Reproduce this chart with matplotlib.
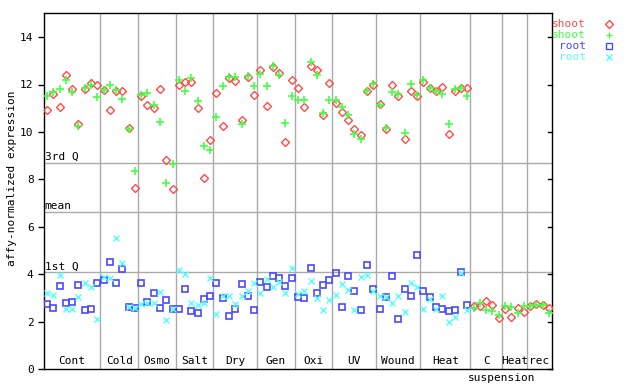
import matplotlib
matplotlib.use('Agg')
import matplotlib.pyplot as plt
import numpy as np

# Group labels and number of samples in each group
groups = ['Cont', 'Cold', 'Osmo', 'Salt', 'Dry', 'Gen', 'Oxi', 'UV', 'Wound', 'Heat', 'C', 'Heat', 'rec']
group_sizes = [9, 6, 6, 6, 7, 6, 6, 7, 7, 8, 5, 4, 4]

# Shoot series (red diamonds and green crosses)
shoot_a = [10.94, 11.62, 11.05, 12.38, 11.83, 10.32, 11.83, 12.07, 11.99,
           11.78, 10.94, 11.73, 11.74, 10.18, 7.64,
           11.53, 11.15, 11.01, 11.83, 8.82, 7.59,
           11.98, 12.11, 12.11, 11.01, 8.06, 9.67,
           11.64, 10.24, 12.28, 12.15, 10.52, 12.32, 11.56,
           12.63, 11.10, 12.75, 12.49, 9.58, 12.19,
           11.85, 11.05, 12.78, 12.63, 10.72, 12.07,
           11.21, 10.84, 10.52, 10.14, 9.89, 11.73, 11.98,
           11.18, 10.12, 11.98, 11.52, 9.70, 11.73, 11.52,
           12.12, 11.85, 11.73, 11.90, 9.91, 11.73, 11.85, 11.85,
           2.67, 2.66, 2.87, 2.70, 2.15,
           2.53, 2.19, 2.57, 2.40,
           2.66, 2.74, 2.70, 2.57]
shoot_b = [11.53, 11.67, 11.83, 12.19, 11.70, 10.27, 11.87, 11.98, 11.49,
           11.76, 11.98, 11.77, 11.39, 10.13, 8.35,
           11.57, 11.66, 11.14, 10.43, 7.85, 8.65,
           12.19, 11.74, 12.29, 11.29, 9.42, 9.25,
           10.63, 11.95, 12.32, 12.32, 10.34, 12.35, 11.94,
           12.45, 11.94, 12.80, 12.40, 10.38, 11.52,
           11.36, 11.36, 12.95, 12.40, 10.80, 11.36,
           11.36, 11.05, 10.72, 9.91, 9.70, 11.73, 12.02,
           11.14, 10.17, 11.69, 11.60, 9.96, 12.02, 11.56,
           12.19, 11.87, 11.74, 11.60, 10.34, 11.81, 11.85, 11.52,
           2.57, 2.78, 2.49, 2.45, 2.29,
           2.66, 2.61, 2.36, 2.66,
           2.66, 2.70, 2.70, 2.36]

# Root series (blue squares and cyan x), none for suspension samples
nan = np.nan
root_a = [2.74, 2.57, 3.50, 2.78, 2.83, 3.54, 2.49, 2.53, 3.63,
          3.75, 4.51, 3.63, 4.22, 2.61, 2.57,
          3.63, 2.83, 3.21, 2.57, 2.91, 2.53,
          2.53, 3.37, 2.45, 2.36, 2.95, 3.08,
          3.63, 2.99, 2.24, 2.53, 3.59, 3.08, 2.49,
          3.67, 3.46, 3.92, 3.84, 3.50, 3.84,
          3.04, 2.99, 4.26, 3.21, 3.54, 3.75,
          4.05, 2.61, 3.92, 3.29, 2.49, 4.39, 3.37,
          2.53, 3.04, 3.92, 2.11, 3.37, 3.08, 4.81,
          3.29, 3.04, 2.61, 2.53, 2.45, 2.49, 4.09, 2.70,
          nan, nan, nan, nan, nan, nan, nan, nan, nan, nan, nan, nan, nan]
root_b = [3.21, 3.12, 3.97, 2.53, 2.53, 3.04, 3.63, 3.46, 2.11,
          3.88, 3.84, 5.53, 4.47, 2.61, 2.57,
          2.74, 2.78, 2.78, 3.25, 2.07, 2.53,
          4.18, 4.01, 2.78, 2.70, 2.78, 3.84,
          2.32, 3.08, 3.08, 2.74, 3.08, 3.29, 3.63,
          3.21, 3.80, 3.46, 3.67, 3.21, 4.26,
          3.16, 3.29, 3.71, 2.99, 2.49, 2.91,
          3.12, 3.59, 3.33, 2.49, 3.88, 3.97, 3.29,
          3.08, 3.04, 2.78, 3.08, 2.40, 3.63, 3.46,
          2.53, 2.95, 2.53, 3.08, 1.98, 2.19, 4.05, 2.49,
          nan, nan, nan, nan, nan, nan, nan, nan, nan, nan, nan, nan, nan]

# Reference lines
quartiles = {'3rd Q': 8.69, 'mean': 6.64, '1st Q': 4.08}

plt.rcParams['font.family'] = 'DejaVu Sans Mono'
plt.rcParams['font.size'] = 8

fig = plt.figure(figsize=(6.4, 3.84), dpi=100)
ax = fig.add_axes([44/640, 1 - 369.3/384, 508/640, 356/384])

n = sum(group_sizes)
x = np.arange(n) + 0.5

# separators and group labels
bounds = np.cumsum([0] + group_sizes)
for i in range(len(groups)):
	if i > 0:
		ax.axvline(bounds[i], color='#aaaaaa', lw=1, zorder=1)
	ax.text((bounds[i] + bounds[i+1]) / 2, 0.12, groups[i], ha='center', va='bottom')
ax.text(73, -0.35, 'suspension', ha='center', va='center', clip_on=False)

for name, val in quartiles.items():
	ax.axhline(val, color='#aaaaaa', lw=1, zorder=1)
	ax.text(0.1, val + 0.04, name, ha='left', va='bottom')

red = '#ff4a4a'
green = '#44ff44'
blue = '#4a4aff'
cyan = '#55ffff'

ax.plot(x, shoot_a, 'D', ms=3.8, mfc='none', mec=red, mew=1, ls='none', zorder=3)
ax.plot(x, shoot_b, '+', ms=5.5, color=green, mew=1.2, ls='none', zorder=4)
ax.plot(x, root_a, 's', ms=4.3, mfc='none', mec=blue, mew=1.2, ls='none', zorder=3)
ax.plot(x, root_b, 'x', ms=4.5, color=cyan, mew=1, ls='none', zorder=4)

ax.set_xlim(0, n)
ax.set_ylim(0, 15)
ax.set_xticks([])
ax.set_yticks(range(0, 15, 2))
ax.tick_params(axis='y', direction='out', length=4, width=1)
for sp in ax.spines.values():
	sp.set_linewidth(1)

# right side inward ticks
for t in range(0, 15, 2):
	ax.plot([n - 0.7, n], [t, t], color='black', lw=1, clip_on=False)

fig.text(12/640, 1 - 178/384, 'affy-normalized expression', rotation=90, ha='center', va='center')

# legend to the right
leg = [('shoot', red, 'D'), ('shoot', green, '+'), ('root', blue, 's'), ('root', cyan, 'x')]
for i, (lab, col, m) in enumerate(leg):
	yy = 1 - (24 + i * 10.9) / 384
	fig.text(586/640, yy, lab, color=col, ha='right', va='center', fontsize=8)
	if m in ('D', 's'):
		fig.lines.append(plt.Line2D([609/640], [yy], marker=m, ms=3.8, mfc='none', mec=col, mew=1, transform=fig.transFigure))
	else:
		fig.lines.append(plt.Line2D([609/640], [yy], marker=m, ms=5, color=col, mew=1, transform=fig.transFigure))

fig.savefig('out.png', dpi=100)
